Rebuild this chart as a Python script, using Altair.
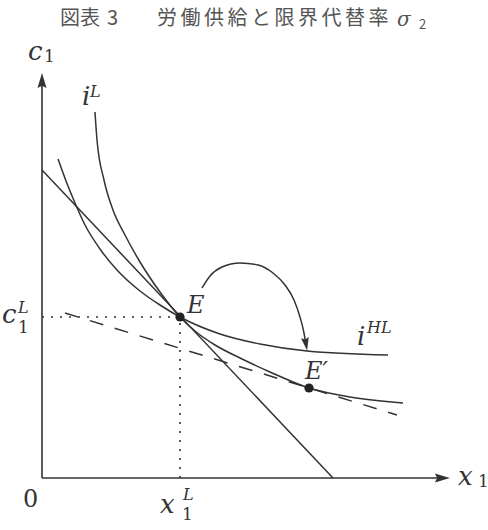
import altair as alt
import pandas as pd

# ---- data (diagram units: origin at the axes' corner) ----
iL_x = [1.325, 1.375, 1.55, 1.775, 2.075, 2.45, 2.95, 3.45, 3.825, 4.325, 4.95, 5.7, 6.675, 7.7, 9.025]
iL_y = [9.15, 8.45, 7.45, 6.7, 6.075, 5.4, 4.65, 4.025, 3.675, 3.325, 3.0, 2.65, 2.25, 2.025, 1.875]

iHL_x = [0.4, 0.6, 0.825, 1.075, 1.45, 1.875, 2.45, 2.95, 3.45, 4.45, 5.45, 6.625, 8.65]
iHL_y = [7.975, 7.425, 6.875, 6.325, 5.725, 5.2, 4.675, 4.325, 4.025, 3.6, 3.35, 3.175, 3.075]

budget_x = [0.0, 7.275]
budget_y = [7.7, 0.0]

tangent_x = [0.575, 8.875]
tangent_y = [4.125, 1.575]

arc_x = [4.0, 4.2, 4.5, 4.95, 5.4, 5.775, 6.075, 6.3, 6.45, 6.55, 6.6]
arc_y = [4.75, 5.05, 5.275, 5.375, 5.325, 5.125, 4.825, 4.45, 4.025, 3.625, 3.325]

point_names = ["E", "E'"]
point_x = [3.45, 6.675]
point_y = [4.025, 2.25]

x_axis_end = 10.0
y_axis_end = 9.9

# ---- scales ----
xs = alt.Scale(domain=[-1.05, 11.15], nice=False, zero=False)
ys = alt.Scale(domain=[-1.3, 11.95], nice=False, zero=False)
INK = "#333333"
SERIF = "DejaVu Serif"


def X(f="x"):
    return alt.X(f"{f}:Q", scale=xs, axis=None)


def Y(f="y"):
    return alt.Y(f"{f}:Q", scale=ys, axis=None)


def curve(xv, yv, **kw):
    df = pd.DataFrame({"x": xv, "y": yv, "i": range(len(xv))})
    return alt.Chart(df).mark_line(color=INK, strokeWidth=1.5, interpolate="monotone", **kw).encode(
        x=X(), y=Y(), order="i:Q")


layers = []
layers.append(curve(iL_x, iL_y))
layers.append(curve(iHL_x, iHL_y))
layers.append(curve(budget_x, budget_y))
layers.append(curve(tangent_x, tangent_y, strokeDash=[14, 12]))
layers.append(curve(arc_x, arc_y))

# dotted guides
E_x, E_y = point_x[0], point_y[0]
guides = pd.DataFrame({"x": [0, E_x], "y": [E_y, 0], "x2": [E_x, E_x], "y2": [E_y, E_y]})
layers.append(alt.Chart(guides).mark_rule(color=INK, strokeWidth=1.6, strokeDash=[2, 7]).encode(
    x=X(), y=Y(), x2="x2:Q", y2="y2:Q"))

# axes
axes = pd.DataFrame({"x": [0, 0], "y": [0, 0], "x2": [x_axis_end, 0], "y2": [0, y_axis_end]})
layers.append(alt.Chart(axes).mark_rule(color=INK, strokeWidth=1.6).encode(
    x=X(), y=Y(), x2="x2:Q", y2="y2:Q"))

# arrowheads
up = "M0,-1L0.6,1L0,0.7L-0.6,1Z"
heads = pd.DataFrame({"x": [0.0, 10.01], "y": [9.94, 0.0], "a": [0, 90]})
layers.append(alt.Chart(heads).mark_point(shape=up, filled=True, size=225, color=INK, opacity=1,
                                          strokeWidth=0).encode(
    x=X(), y=Y(), angle=alt.Angle("a:Q", scale=None)))
arc_head = pd.DataFrame({"x": [6.6], "y": [3.35], "a": [170]})
layers.append(alt.Chart(arc_head).mark_point(shape=up, filled=True, size=170, color=INK, opacity=1,
                                             strokeWidth=0).encode(
    x=X(), y=Y(), angle=alt.Angle("a:Q", scale=None)))

# points
pts = pd.DataFrame({"x": point_x, "y": point_y, "n": point_names})
layers.append(alt.Chart(pts).mark_circle(size=85, color="#222222", opacity=1).encode(x=X(), y=Y()))

# math labels (italic)
ital = pd.DataFrame([
    ("c", -0.35, 10.45, 26), ("i", 1.0, 9.325, 26), ("L", 1.2, 9.525, 16),
    ("E", 3.625, 4.125, 24), ("E′", 6.575, 2.475, 24),
    ("i", 7.875, 3.325, 26), ("HL", 8.125, 3.625, 16),
    ("c", -1.0, 3.875, 26), ("L", -0.6, 4.125, 16),
    ("x", 2.95, -0.875, 26), ("L", 3.525, -0.55, 16),
    ("x", 10.4, -0.175, 26),
], columns=["t", "x", "y", "s"])
layers.append(alt.Chart(ital).mark_text(font=SERIF, fontStyle="italic", align="left",
                                        baseline="alphabetic", color=INK).encode(
    x=X(), y=Y(), text="t:N", size=alt.Size("s:Q", scale=None)))

roman = pd.DataFrame([
    ("1", 0.05, 10.4, 17), ("1", -0.6, 3.625, 17), ("1", 3.5, -1.05, 17),
    ("1", 10.9, -0.225, 17), ("0", -0.475, -0.725, 24),
], columns=["t", "x", "y", "s"])
layers.append(alt.Chart(roman).mark_text(font=SERIF, align="left",
                                         baseline="alphabetic", color=INK).encode(
    x=X(), y=Y(), text="t:N", size=alt.Size("s:Q", scale=None)))

# title
title_head = ["図", "表", "3"]
title_head_x = [0.45, 0.95, 1.625]
title_body = list("労働供給と限界代替率")
title_rows = [(c, x) for c, x in zip(title_head, title_head_x)]
title_rows += [(c, 2.875 + i * 0.5875) for i, c in enumerate(title_body)]
tdf = pd.DataFrame(title_rows, columns=["t", "x"])
tdf["y"] = 11.325
layers.append(alt.Chart(tdf).mark_text(font="Noto Sans CJK JP", fontSize=20, align="left",
                                       baseline="alphabetic", color="#555555").encode(
    x=X(), y=Y(), text="t:N"))
sig = pd.DataFrame({"t": ["σ", "2"], "x": [8.875, 9.425], "y": [11.3, 11.225], "s": [20, 13]})
layers.append(alt.Chart(sig.iloc[[0]]).mark_text(font=SERIF, fontStyle="italic", align="left",
                                                 baseline="alphabetic", color="#555555").encode(
    x=X(), y=Y(), text="t:N", size=alt.Size("s:Q", scale=None)))
layers.append(alt.Chart(sig.iloc[[1]]).mark_text(font="Noto Sans CJK JP", align="left",
                                                 baseline="alphabetic", color="#555555").encode(
    x=X(), y=Y(), text="t:N", size=alt.Size("s:Q", scale=None)))

chart = alt.layer(*layers).properties(width=488, height=530, padding=0, autosize="none").configure_view(
    stroke=None)
chart.save("out.html", embed_options={"renderer": "svg", "actions": False})
